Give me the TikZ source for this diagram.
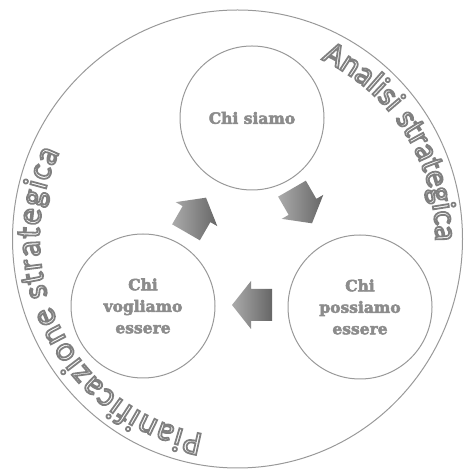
\documentclass[tikz,border=0pt]{standalone}
\usepackage{fontspec}
\setmainfont{DejaVu Serif}
\newfontfamily\curvefont{Carlito}
\usetikzlibrary{decorations.text}
\newcommand\outlinetext{\special{pdf:literal direct 1 Tr 1.8 w}}
\newcommand\embosstext{\special{pdf:literal direct 2 Tr 0.5 w 0.42 G}}
\tikzset{
  bigring/.style={draw=black!40, line width=1pt},
  stage/.style={circle, draw=black!40, line width=1pt, fill=white,
    minimum size=144pt, inner sep=0pt, align=center,
    font=\bfseries\fontsize{15.5}{21.5}\selectfont\embosstext, text=black!45},
  arrowbody/.style={left color=black!33, right color=black!60, draw=none},
  pics/blockarrow/.style={code={
    \path[arrowbody] (-20,-16) -- (1,-16) -- (1,-24) -- (20,0) -- (1,24) -- (1,16) -- (-20,16) -- cycle;}},
  ringtext/.style={decorate, decoration={text along path, text align=fit to path,
    text color=black!50, text={#1}}}
}
\begin{document}
\begin{tikzpicture}[x=1pt,y=1pt]
\useasboundingbox (0,0) rectangle (469,473);
\draw[bigring] (237.5,234) ellipse [x radius=225, y radius=229];
\node[stage] (siamo) at (252,355) {Chi siamo};
\node[stage] (vogliamo) at (143,167) {Chi\\vogliamo\\essere};
\node[stage] (possiamo) at (360,166) {Chi\\possiamo\\essere};
\pic[rotate=60] (arrowA) at (196,258) {blockarrow};
\pic[rotate=-60] (arrowB) at (302,267) {blockarrow};
\pic[rotate=180] (arrowC) at (252,168) {blockarrow};
\path[ringtext={|\curvefont\fontsize{33}{33}\selectfont\outlinetext|Analisi strategica}]
  ([shift={(65:198)}]237.5,234) arc[start angle=65, end angle=0.5, radius=198];
\path[ringtext={|\curvefont\fontsize{34}{34}\selectfont\outlinetext|Pianificazione strategica}]
  ([shift={(260:198)}]237.5,234) arc[start angle=260, end angle=154, radius=198];
\end{tikzpicture}
\end{document}
